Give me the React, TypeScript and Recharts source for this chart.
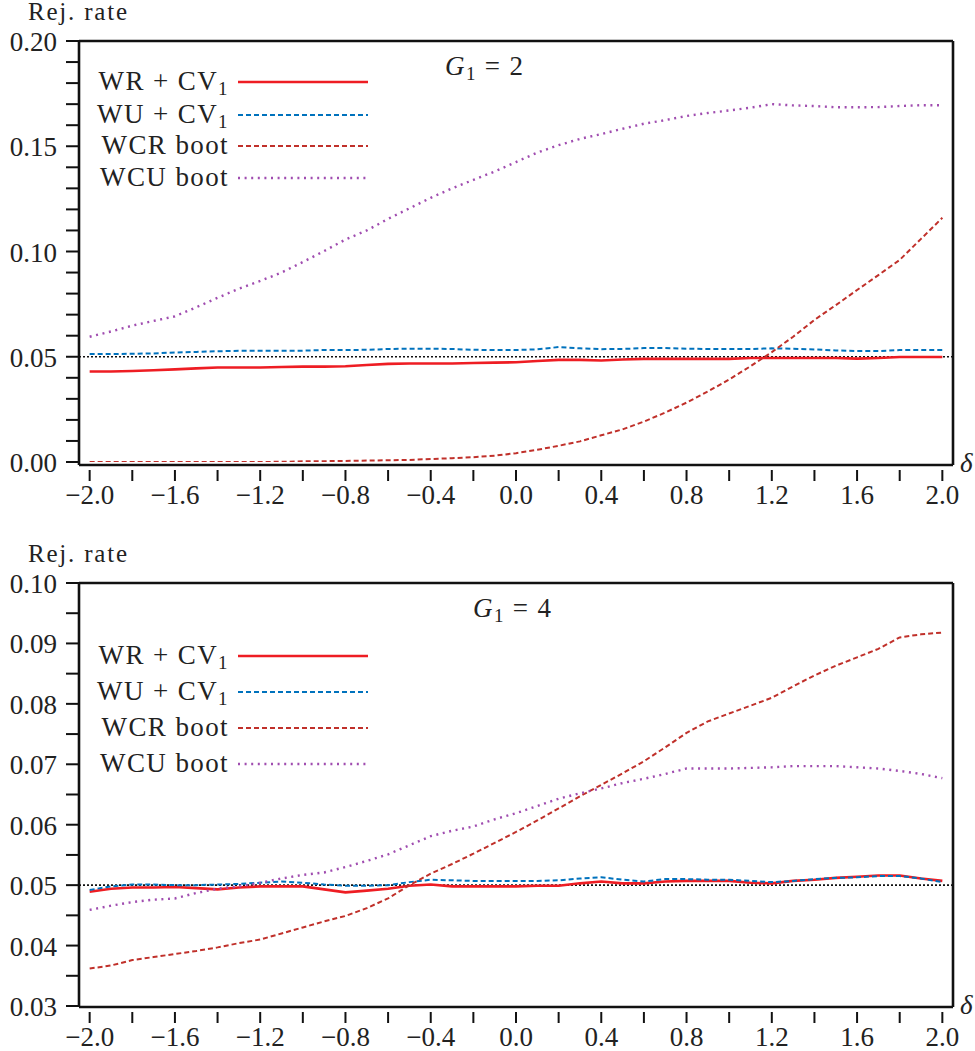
import { Line, LineChart, ReferenceLine, XAxis, YAxis } from 'recharts';

const FONT = '"Liberation Serif", "Times New Roman", serif';
const INK = '#222';

// shift parameter on the x axis
const DELTA = [
  -2.0, -1.9, -1.8, -1.7, -1.6, -1.5, -1.4, -1.3, -1.2, -1.1, -1.0, -0.9, -0.8, -0.7, -0.6, -0.5, -0.4, -0.3, -0.2, -0.1,
  0.0, 0.1, 0.2, 0.3, 0.4, 0.5, 0.6, 0.7, 0.8, 0.9, 1.0, 1.1, 1.2, 1.3, 1.4, 1.5, 1.6, 1.7, 1.8, 1.9, 2.0,
];

// G1 = 2
const G2_WR_CV1 = [
  0.043, 0.043, 0.0432, 0.0436, 0.044, 0.0445, 0.0449, 0.0449, 0.0449, 0.0451, 0.0453, 0.0453, 0.0455, 0.0461, 0.0466,
  0.0468, 0.0468, 0.0468, 0.047, 0.0472, 0.0474, 0.048, 0.0485, 0.0485, 0.0482, 0.0487, 0.049, 0.049, 0.049, 0.049,
  0.049, 0.0494, 0.0494, 0.0494, 0.0494, 0.0494, 0.0491, 0.0494, 0.0499, 0.0499, 0.0499,
];
const G2_WU_CV1 = [
  0.0513, 0.0513, 0.0514, 0.0516, 0.052, 0.0523, 0.0526, 0.0528, 0.0528, 0.0528, 0.0529, 0.0532, 0.0532, 0.0533, 0.0537,
  0.0538, 0.0538, 0.0537, 0.0533, 0.0532, 0.0532, 0.0535, 0.0546, 0.054, 0.0536, 0.0537, 0.0541, 0.0541, 0.0538, 0.0537,
  0.0537, 0.0537, 0.054, 0.0538, 0.0535, 0.053, 0.0527, 0.0527, 0.0532, 0.0532, 0.0532,
];
const G2_WCR_BOOT = [
  0.0, 0.0, 0.0, 0.0, 0.0, 0.0, 0.0, 0.0, 0.0, 0.0001, 0.0003, 0.0004, 0.0005, 0.0007, 0.0008, 0.001, 0.0014, 0.0018,
  0.0023, 0.003, 0.0042, 0.0058, 0.0077, 0.0098, 0.0127, 0.0155, 0.0192, 0.0235, 0.0282, 0.0335, 0.0392, 0.0455, 0.0522,
  0.0595, 0.0675, 0.0745, 0.0817, 0.0888, 0.096, 0.106, 0.116,
];
const G2_WCU_BOOT = [
  0.0595, 0.062, 0.0648, 0.067, 0.0692, 0.0735, 0.078, 0.0823, 0.086, 0.09, 0.095, 0.1002, 0.1057, 0.11, 0.1155, 0.1205,
  0.1255, 0.13, 0.134, 0.138, 0.1425, 0.147, 0.1505, 0.1535, 0.1558, 0.1583, 0.1607, 0.1624, 0.1644, 0.1658, 0.167,
  0.1683, 0.17, 0.1694, 0.1691, 0.1685, 0.1685, 0.1686, 0.1691, 0.1695, 0.1695,
];

// G1 = 4
const G4_WR_CV1 = [
  0.0489, 0.0494, 0.0496, 0.0496, 0.0497, 0.0495, 0.0493, 0.0496, 0.0498, 0.0498, 0.0498, 0.0493, 0.0488, 0.0491, 0.0494,
  0.0499, 0.0501, 0.0498, 0.0498, 0.0498, 0.0498, 0.0499, 0.0499, 0.0503, 0.0506, 0.0503, 0.0503, 0.0506, 0.0507, 0.0507,
  0.0507, 0.0504, 0.0503, 0.0507, 0.0509, 0.0512, 0.0514, 0.0516, 0.0516, 0.0511, 0.0507,
];
const G4_WU_CV1 = [
  0.0492, 0.0498, 0.0501, 0.0501, 0.05, 0.05, 0.0501, 0.0502, 0.0504, 0.0506, 0.0504, 0.0501, 0.0499, 0.0499, 0.05,
  0.0505, 0.0509, 0.0508, 0.0507, 0.0507, 0.0507, 0.0507, 0.0508, 0.0511, 0.0513, 0.0509, 0.0506, 0.051, 0.051, 0.0509,
  0.0509, 0.0507, 0.0505, 0.0507, 0.051, 0.0512, 0.0513, 0.0515, 0.0515, 0.0511, 0.0505,
];
const G4_WCR_BOOT = [
  0.0362, 0.0367, 0.0376, 0.0381, 0.0386, 0.0391, 0.0397, 0.0404, 0.041, 0.042, 0.043, 0.044, 0.0449, 0.0462, 0.0478,
  0.05, 0.0519, 0.0535, 0.0552, 0.057, 0.0588, 0.0607, 0.0627, 0.0647, 0.0666, 0.0685, 0.0705, 0.0728, 0.0752, 0.0771,
  0.0784, 0.0797, 0.081, 0.0829, 0.0847, 0.0863, 0.0877, 0.0891, 0.091, 0.0915, 0.0918,
];
const G4_WCU_BOOT = [
  0.0459, 0.0466, 0.0472, 0.0476, 0.0478, 0.0487, 0.0494, 0.0498, 0.0504, 0.0511, 0.0517, 0.0521, 0.053, 0.054, 0.0551,
  0.0566, 0.0581, 0.059, 0.0597, 0.0609, 0.0619, 0.0631, 0.0643, 0.0652, 0.066, 0.0669, 0.0676, 0.0684, 0.0693, 0.0693,
  0.0693, 0.0694, 0.0695, 0.0697, 0.0697, 0.0697, 0.0695, 0.0693, 0.0689, 0.0684, 0.0677,
];

const X_TICKS = [-2, -1.8, -1.6, -1.4, -1.2, -1, -0.8, -0.6, -0.4, -0.2, 0, 0.2, 0.4, 0.6, 0.8, 1, 1.2, 1.4, 1.6, 1.8, 2];
const X_LABELED = [-2, -1.6, -1.2, -0.8, -0.4, 0, 0.4, 0.8, 1.2, 1.6, 2];

const Y1_TICKS = [
  0, 0.01, 0.02, 0.03, 0.04, 0.05, 0.06, 0.07, 0.08, 0.09, 0.1, 0.11, 0.12, 0.13, 0.14, 0.15, 0.16, 0.17, 0.18, 0.19, 0.2,
];
const Y1_LABELED = [0, 0.05, 0.1, 0.15, 0.2];
const Y2_TICKS = [0.03, 0.035, 0.04, 0.045, 0.05, 0.055, 0.06, 0.065, 0.07, 0.075, 0.08, 0.085, 0.09, 0.095, 0.1];
const Y2_LABELED = [0.03, 0.04, 0.05, 0.06, 0.07, 0.08, 0.09, 0.1];

const SERIES = [
  { key: 'wr', name: 'WR + CV', sub: '1', color: '#ee1d23', width: 2.6, dash: undefined },
  { key: 'wu', name: 'WU + CV', sub: '1', color: '#0072bd', width: 2, dash: '5 3' },
  { key: 'wcr', name: 'WCR boot', sub: '', color: '#c0302a', width: 2, dash: '5 3' },
  { key: 'wcu', name: 'WCU boot', sub: '', color: '#a04db0', width: 2.4, dash: '2 4.6' },
];

const makeRows = (wr: number[], wu: number[], wcr: number[], wcu: number[]) =>
  DELTA.map((d, i) => ({ delta: d, wr: wr[i], wu: wu[i], wcr: wcr[i], wcu: wcu[i] }));

const near = (list: number[], v: number) => list.some((l) => Math.abs(l - v) < 1e-9);

const fmtX = (v: number) => (v < 0 ? '\u2212' + Math.abs(v).toFixed(1) : v.toFixed(1));

const XTick = (props: any) => {
  const { x, y, payload } = props;
  const v = payload.value;
  return (
    <g>
      <line x1={x} x2={x} y1={y + 5} y2={y + 16} stroke="#111" strokeWidth={2} />
      {near(X_LABELED, v) && (
        <text x={x} y={y + 39} textAnchor="middle" fontFamily={FONT} fontSize={27} fill={INK}>
          {fmtX(v)}
        </text>
      )}
    </g>
  );
};

const makeYTick = (labeled: number[]) => (props: any) => {
  const { x, y, payload } = props;
  const v = payload.value;
  return (
    <g>
      <line x1={x - 13} x2={x} y1={y} y2={y} stroke="#111" strokeWidth={2} />
      {near(labeled, v) && (
        <text x={x - 22} y={y + 10} textAnchor="end" fontFamily={FONT} fontSize={27} fill={INK}>
          {v.toFixed(2)}
        </text>
      )}
    </g>
  );
};

type PanelProps = {
  top: number;
  rows: ReturnType<typeof makeRows>;
  yDomain: [number, number];
  yTicks: number[];
  yLabeled: number[];
  padBottom: number;
  title: string;
  titleX: number;
  legendRows: number[];
};

const textStyle = {
  fontFamily: FONT,
  fontSize: 27,
  lineHeight: '27px',
  color: INK,
  whiteSpace: 'nowrap' as const,
  letterSpacing: 1.4,
};
const subStyle = { fontSize: 19, lineHeight: '19px', position: 'relative' as const, top: 5 };

const Panel = ({ top, rows, yDomain, yTicks, yLabeled, padBottom, title, titleX, legendRows }: PanelProps) => (
  <div style={{ position: 'absolute', left: 0, top, width: 975, height: 525 }}>
    <LineChart width={975} height={525} data={rows} margin={{ top: 41, right: 22, left: 0, bottom: 0 }}>
      <XAxis
        dataKey="delta"
        type="number"
        domain={[-2.05, 2.05]}
        allowDataOverflow
        ticks={X_TICKS}
        interval={0}
        height={60}
        tickSize={0}
        tickMargin={0}
        tickLine={false}
        axisLine={{ stroke: '#111', strokeWidth: 2.6 }}
        tick={<XTick />}
      />
      <YAxis
        type="number"
        domain={yDomain}
        allowDataOverflow
        ticks={yTicks}
        interval={0}
        width={79}
        padding={{ top: 0, bottom: padBottom }}
        tickSize={0}
        tickMargin={0}
        tickLine={false}
        axisLine={{ stroke: '#111', strokeWidth: 2.6 }}
        tick={makeYTick(yLabeled)}
      />
      <ReferenceLine y={yDomain[1]} stroke="#111" strokeWidth={2.6} />
      <ReferenceLine x={2.05} stroke="#111" strokeWidth={2.6} />
      <ReferenceLine y={0.05} stroke="#111" strokeWidth={1.6} strokeDasharray="2 2" />
      {SERIES.map((s) => (
        <Line
          key={s.key}
          dataKey={s.key}
          type="linear"
          stroke={s.color}
          strokeWidth={s.width}
          strokeDasharray={s.dash}
          dot={false}
          isAnimationActive={false}
        />
      ))}
    </LineChart>

    {/* axis captions */}
    <div
      style={{
        ...textStyle,
        fontSize: 25,
        lineHeight: '28px',
        letterSpacing: 1.8,
        position: 'absolute',
        left: 28,
        top: -2,
      }}
    >
      Rej. rate
    </div>
    <div style={{ ...textStyle, position: 'absolute', left: 960, top: 450, fontStyle: 'italic' }}>δ</div>

    {/* panel title */}
    <div style={{ ...textStyle, position: 'absolute', left: titleX, top: 53 }}>
      <i>G</i>
      <span style={subStyle}>1</span>
      <span style={{ margin: '0 8px' }}>=</span>
      <span>{title}</span>
    </div>

    {/* legend */}
    {SERIES.map((s, i) => (
      <div key={s.key} style={{ position: 'absolute', left: 0, top: legendRows[i] - 15, height: 30, width: 380 }}>
        <div style={{ ...textStyle, position: 'absolute', right: 380 - 229, top: 1 }}>
          {s.name}
          {s.sub && <span style={subStyle}>{s.sub}</span>}
        </div>
        <svg style={{ position: 'absolute', left: 238, top: 0 }} width={132} height={30}>
          <line x1={0} x2={130} y1={15} y2={15} stroke={s.color} strokeWidth={s.width} strokeDasharray={s.dash} />
        </svg>
      </div>
    ))}
  </div>
);

export default function App() {
  return (
    <div style={{ position: 'absolute', left: 0, top: 0, width: 975, height: 1051, background: '#fff' }}>
      <Panel
        top={0}
        rows={makeRows(G2_WR_CV1, G2_WU_CV1, G2_WCR_BOOT, G2_WCU_BOOT)}
        yDomain={[0, 0.2]}
        yTicks={Y1_TICKS}
        yLabeled={Y1_LABELED}
        padBottom={3}
        title="2"
        titleX={445}
        legendRows={[82, 115, 146, 178]}
      />
      <Panel
        top={542}
        rows={makeRows(G4_WR_CV1, G4_WU_CV1, G4_WCR_BOOT, G4_WCU_BOOT)}
        yDomain={[0.03, 0.1]}
        yTicks={Y2_TICKS}
        yLabeled={Y2_LABELED}
        padBottom={1}
        title="4"
        titleX={473}
        legendRows={[114, 150, 186, 222]}
      />
    </div>
  );
}
